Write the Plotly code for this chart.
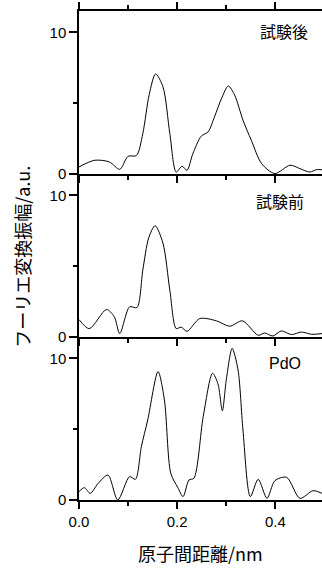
import plotly.graph_objects as go

# ---- data ----
x_after = [0.0, 0.032, 0.062, 0.083, 0.1, 0.117, 0.13, 0.143, 0.156, 0.171, 0.185, 0.198, 0.21, 0.22,
           0.232, 0.249, 0.263, 0.276, 0.29, 0.304, 0.317, 0.334, 0.351, 0.372, 0.399, 0.43, 0.45,
           0.47, 0.484, 0.495]
y_after = [0.5, 0.97, 0.85, 0.33, 1.25, 1.3, 2.86, 5.6, 7.06, 6.16, 2.86, 0.14, 0.55, 0.26,
           1.44, 2.67, 2.97, 4.03, 5.3, 6.21, 5.57, 3.8, 2.38, 0.73, 0.03, 0.62, 0.38,
           0.14, 0.31, 0.3]

x_before = [0.0, 0.021, 0.056, 0.072, 0.083, 0.103, 0.118, 0.13, 0.142, 0.155, 0.171, 0.185, 0.198,
            0.208, 0.22, 0.246, 0.28, 0.307, 0.333, 0.365, 0.378, 0.395, 0.412, 0.433, 0.453,
            0.474, 0.495]
y_before = [1.23, 0.59, 1.94, 1.42, 0.24, 2.13, 2.08, 4.73, 7.0, 7.85, 6.62, 3.31, 0.59,
            0.7, 0.4, 1.3, 1.14, 0.76, 1.14, 0.12, 0.28, 0.07, 0.43, 0.17, 0.35,
            0.19, 0.24]

x_pdo = [0.0, 0.011, 0.023, 0.038, 0.059, 0.079, 0.103, 0.115, 0.127, 0.14, 0.161, 0.174, 0.187,
         0.201, 0.212, 0.224, 0.234, 0.253, 0.272, 0.283, 0.292, 0.3, 0.312, 0.324, 0.334,
         0.349, 0.365, 0.383, 0.399, 0.423, 0.45, 0.477, 0.495]
y_pdo = [0.59, 0.87, 0.47, 1.13, 1.76, 0.0, 1.65, 1.46, 3.76, 5.65, 9.06, 7.06, 1.88,
         0.9, 0.24, 1.41, 1.53, 5.88, 8.94, 8.2, 6.3, 8.47, 10.7, 9.17, 4.94,
         0.24, 1.46, 0.12, 1.36, 1.6, 0.12, 0.66, 0.47]

panel_labels = ["試験後", "試験前", "PdO"]
x_tickvals = [0.0, 0.2, 0.4]
x_ticktext = ["0.0", "0.2", "0.4"]
y_tickvals = [0, 10]
y_ticktext = ["0", "10"]
x_title = "原子間距離/nm"
y_title = "フーリエ変換振幅/a.u."

FONT = "Liberation Sans, Arial, Noto Sans CJK JP, sans-serif"
JFONT = "Noto Sans CJK JP, Liberation Sans, sans-serif"

fig = go.Figure()
series = [(x_after, y_after, "x3", "y3"), (x_before, y_before, "x2", "y2"), (x_pdo, y_pdo, "x", "y")]
for xs, ys, xa, ya in series:
    fig.add_trace(go.Scatter(x=xs, y=ys, xaxis=xa, yaxis=ya, mode="lines",
                             line=dict(color="black", width=1, shape="spline", smoothing=0.8),
                             showlegend=False, hoverinfo="skip"))

def xax(anchor, labels, mirror=False):
    d = dict(range=[0, 0.495], anchor=anchor, showline=True, linecolor="black", linewidth=1.5,
             ticks="outside", ticklen=7, tickwidth=1.5, tickcolor="black",
             tickvals=x_tickvals, ticktext=x_ticktext, showticklabels=labels,
             tickfont=dict(family=FONT, size=15, color="black"),
             minor=dict(ticks="outside", ticklen=4, tickwidth=1.5, tickcolor="black", dtick=0.1, tick0=0),
             showgrid=False, zeroline=False, fixedrange=True)
    if mirror:
        d["mirror"] = "ticks"
    return d

def yax(anchor, domain):
    return dict(domain=domain, range=[0, 11.5], anchor=anchor, showline=True, linecolor="black",
                linewidth=1.5, ticks="outside", ticklen=8, tickwidth=1.5, tickcolor="black",
                tickvals=y_tickvals, ticktext=y_ticktext,
                tickfont=dict(family=FONT, size=15, color="black"),
                minor=dict(ticks="outside", ticklen=4, tickwidth=1.5, tickcolor="black",
                           tickvals=[5]),
                showgrid=False, zeroline=False, fixedrange=True)

fig.update_layout(
    width=322, height=568,
    margin=dict(l=79, r=0, t=11, b=68),
    paper_bgcolor="white", plot_bgcolor="white",
    xaxis=xax("y", True),
    xaxis2=xax("y2", False),
    xaxis3=xax("y3", False, mirror=True),
    yaxis=yax("x", [0, 1/3]),
    yaxis2=yax("x2", [1/3, 2/3]),
    yaxis3=yax("x3", [2/3, 1]),
)
fig.layout.xaxis2.matches = "x"
fig.layout.xaxis3.matches = "x"

annos = [
    dict(text=panel_labels[0], x=0.417, y=10.1, xref="x3", yref="y3", font=dict(family=JFONT, size=16)),
    dict(text=panel_labels[1], x=0.41, y=9.6, xref="x2", yref="y2", font=dict(family=JFONT, size=16)),
    dict(text=panel_labels[2], x=0.419, y=9.6, xref="x", yref="y", font=dict(family=FONT, size=16)),
    dict(text=x_title, x=0.5, y=-0.108, xref="paper", yref="paper", font=dict(family=JFONT, size=18)),
    dict(text=y_title, x=-0.235, y=0.497, xref="paper", yref="paper", textangle=-90,
         font=dict(family=JFONT, size=18)),
]
for a in annos:
    a.update(showarrow=False, xanchor="center", yanchor="middle")
    a["font"]["color"] = "black"
    fig.add_annotation(**a)

fig.write_html("out.html")
